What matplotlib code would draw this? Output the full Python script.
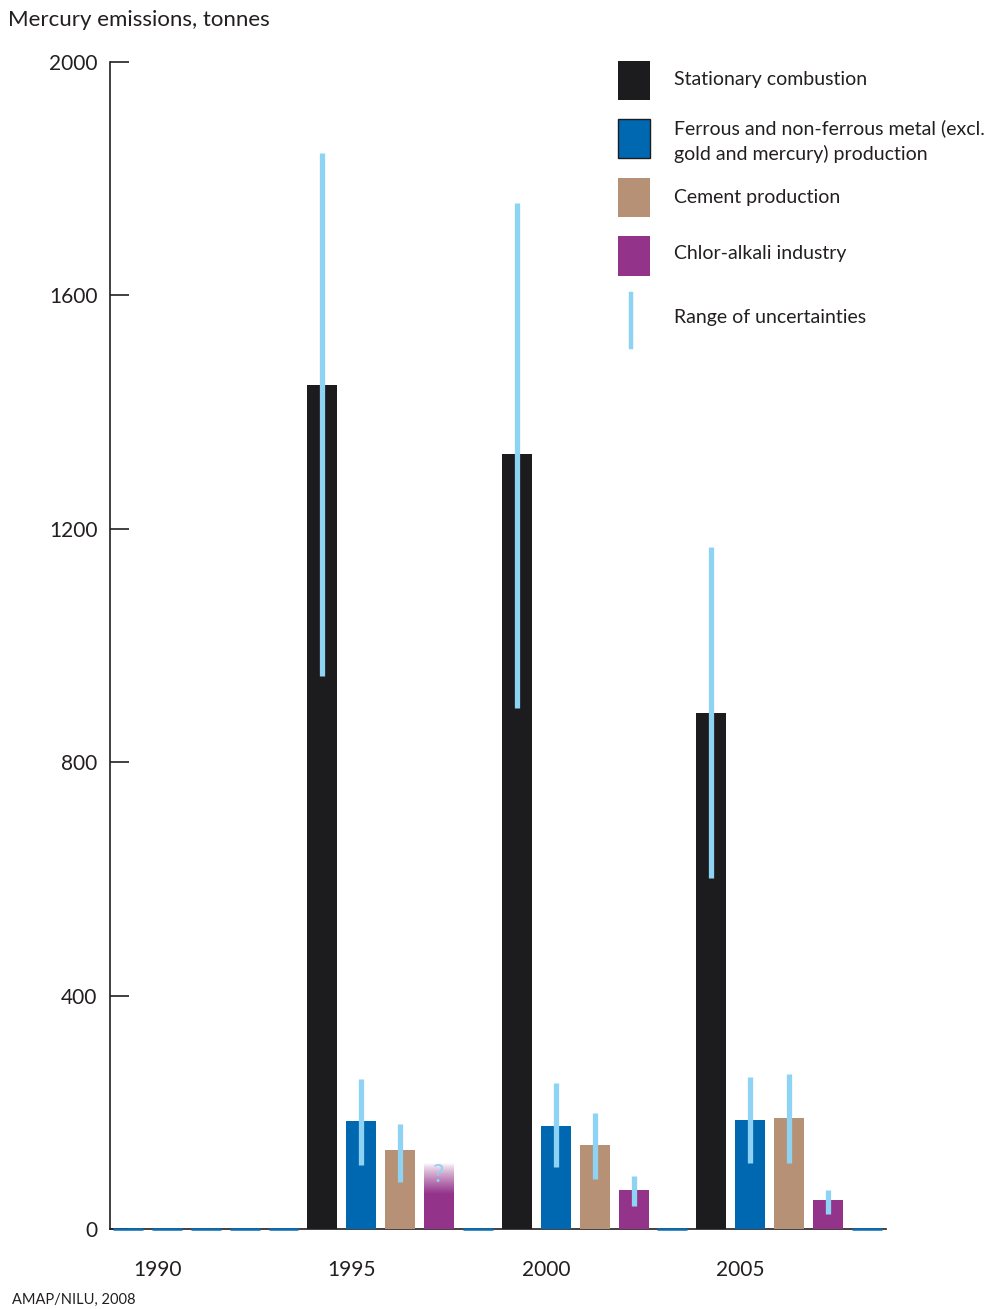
import numpy as np
import matplotlib.pyplot as plt
from matplotlib.patches import Rectangle
from matplotlib.lines import Line2D

plt.rcParams['font.family'] = ['Lato', 'DejaVu Sans']

years = [1990, 1995, 2000, 2005]
sources = ["Stationary combustion",
           "Ferrous and non-ferrous metal (excl.\ngold and mercury) production",
           "Cement production",
           "Chlor-alkali industry"]
colors = ["#1c1b1d", "#0068b0", "#b69175", "#93338a"]

# emissions in tonnes, nan = no estimate
stationary = [np.nan, 1447, 1328, 884]
ferrous = [np.nan, 185, 177, 187]
cement = [np.nan, 135, 144, 190]
chlor_alkali = [np.nan, 60, 67, 50]

# range of uncertainties (low, high)
stationary_low = [np.nan, 948, 893, 602]
stationary_high = [np.nan, 1844, 1758, 1169]
ferrous_low = [np.nan, 110, 106, 113]
ferrous_high = [np.nan, 257, 250, 260]
cement_low = [np.nan, 81, 86, 113]
cement_high = [np.nan, 180, 199, 266]
chlor_low = [np.nan, np.nan, 39, 26]
chlor_high = [np.nan, np.nan, 91, 67]

# 1995 chlor-alkali: uncertain upper part drawn as a fade with "?"
chlor_1995_fade_top = 113

values = [stationary, ferrous, cement, chlor_alkali]
lows = [stationary_low, ferrous_low, cement_low, chlor_low]
highs = [stationary_high, ferrous_high, cement_high, chlor_high]

err_color = "#8ed3f3"
dash_color = "#0a6cb4"
txt_color = "#231f20"

fig = plt.figure(figsize=(9.88, 13.09), dpi=100)
ax = fig.add_axes([110 / 988, 1 - 1229 / 1309, 776 / 988, 1167 / 1309])

width = 0.77
slots_per_year = 5
for i, yr in enumerate(years):
    base = i * slots_per_year
    for j in range(slots_per_year):
        x = base + j
        v = values[j][i] if j < len(values) else np.nan
        if np.isnan(v):
            # empty slot: short blue dash on the baseline
            ax.hlines(0, x - width / 2, x + width / 2, color=dash_color, lw=1.8,
                      zorder=4, clip_on=False)
            continue
        ax.bar(x, v, width=width, color=colors[j], edgecolor="none", zorder=3)
        lo, hi = lows[j][i], highs[j][i]
        if not np.isnan(lo):
            ax.vlines(x, lo, hi, color=err_color, lw=3.8, zorder=5)

# fading top of the 1995 chlor-alkali bar
x_c = 1 * slots_per_year + 3
v0 = chlor_alkali[1]
grad = np.ones((100, 1, 4))
grad[:, 0, :3] = np.array([0x93, 0x33, 0x8a]) / 255
grad[:, 0, 3] = np.linspace(1, 0, 100) ** 0.8
ax.imshow(grad, extent=[x_c - width / 2, x_c + width / 2, v0, chlor_1995_fade_top],
          origin="lower", aspect="auto", zorder=3, interpolation="bilinear")
ax.text(x_c, 93, "?", color=err_color, fontsize=18,
        ha="center", va="center", zorder=6)

ax.set_xlim(-0.46, 19.49)
ax.set_ylim(0, 2000)
ax.set_yticks([0, 400, 800, 1200, 1600, 2000])
ax.set_xticks([i * slots_per_year + 0.75 for i in range(len(years))])
ax.set_xticklabels([str(y) for y in years])
ax.tick_params(axis="y", direction="in", length=14, width=1.2, color=txt_color,
               labelsize=15, labelcolor=txt_color, pad=9)
ax.tick_params(axis="x", length=0, labelsize=15, labelcolor=txt_color, pad=22)
for s in ["top", "right"]:
    ax.spines[s].set_visible(False)
for s in ["left", "bottom"]:
    ax.spines[s].set_color(txt_color)
    ax.spines[s].set_linewidth(1.2)

fig.text(8 / 988, 1 - 20 / 1309, "Mercury emissions, tonnes", fontsize=16,
         color=txt_color, va="center", ha="left")
fig.text(12 / 988, 1 - 1300 / 1309, "AMAP/NILU, 2008", fontsize=10.5,
         color=txt_color, va="center", ha="left")

# legend
def px(x, y):
    return x / 988, 1 - y / 1309

swatch_tops = [61, 119, 178, 236]
swatch_h = [39, 39, 39, 40]
text_y = [80, 141, 197, 254]
for c, top, h, ty, label in zip(colors, swatch_tops, swatch_h, text_y, sources):
    ec = "#1c1b1d" if label.startswith("Ferrous") else "none"
    fig.add_artist(Rectangle(px(618, top + h), 32 / 988, h / 1309, facecolor=c,
                             edgecolor=ec, lw=1.0, transform=fig.transFigure))
    fig.text(*px(674, ty), label, fontsize=14, color=txt_color, va="center",
             ha="left", linespacing=1.5)
fig.add_artist(Line2D([631 / 988, 631 / 988], [1 - 294 / 1309, 1 - 347 / 1309],
                      color=err_color, lw=3.2, transform=fig.transFigure))
fig.text(*px(674, 318), "Range of uncertainties", fontsize=14, color=txt_color,
         va="center", ha="left")

fig.savefig("out.png", dpi=100)
